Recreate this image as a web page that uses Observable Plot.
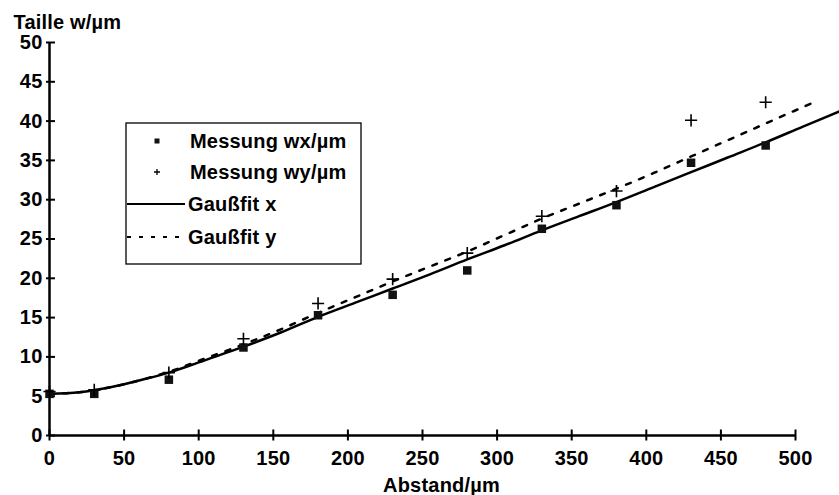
<!DOCTYPE html>
<html>
<head>
<meta charset="utf-8">
<script src="https://cdn.jsdelivr.net/npm/d3@7"></script>
<script src="https://cdn.jsdelivr.net/npm/@observablehq/plot@0.6"></script>
<style>
  html, body { margin: 0; padding: 0; background: #fff; }
  #chart { position: relative; width: 839px; height: 495px; }
</style>
</head>
<body>
<div id="chart"></div>
<script>
// Measurements
const distance = [0, 30, 80, 130, 180, 230, 280, 330, 380, 430, 480];
const wx = [5.3, 5.3, 7.1, 11.2, 15.3, 17.9, 21.0, 26.3, 29.3, 34.7, 36.9];
const wy = [5.6, 5.8, 8.0, 12.3, 16.8, 19.9, 23.2, 27.9, 31.1, 40.1, 42.4];

// Fit curves
const fitXz = [0, 20, 40, 60, 80, 100, 130, 155, 180, 205, 230, 255, 280, 305, 330, 355, 380, 405, 430, 455, 480, 505, 529];
const fitXw = [5.3, 5.5, 6.1, 7.0, 8.0, 9.3, 11.3, 13.1, 15.1, 16.9, 18.7, 20.5, 22.4, 24.2, 26.1, 27.9, 29.7, 31.6, 33.5, 35.4, 37.3, 39.3, 41.2];
const fitYz = [0, 20, 40, 60, 80, 100, 130, 155, 180, 205, 230, 255, 280, 305, 330, 355, 380, 405, 430, 455, 480, 510];
const fitYw = [5.3, 5.5, 6.1, 7.0, 8.1, 9.5, 11.6, 13.5, 15.6, 17.6, 19.6, 21.5, 23.4, 25.5, 27.6, 29.5, 31.4, 33.4, 35.5, 37.6, 39.7, 42.2];

// Axis ticks and labels
const xTicks = [0, 50, 100, 150, 200, 250, 300, 350, 400, 450, 500];
const yTicks = [0, 5, 10, 15, 20, 25, 30, 35, 40, 45, 50];
const xLabel = "Abstand/µm";
const yLabel = "Taille w/µm";
const legendLabels = ["Messung wx/µm", "Messung wy/µm", "Gaußfit x", "Gaußfit y"];

const meas = distance.map((d, i) => ({d, wx: wx[i], wy: wy[i]}));
const fitX = fitXz.map((z, i) => ({z, w: fitXw[i]}));
const fitY = fitYz.map((z, i) => ({z, w: fitYw[i]}));

const FONT = "'Liberation Sans', Arial, Helvetica, sans-serif";
const FS = 20;

const plot = Plot.plot({
  width: 839,
  height: 495,
  marginLeft: 49,
  marginRight: 44,
  marginTop: 42,
  marginBottom: 60,
  style: {fontFamily: FONT, fontSize: FS + "px", fontWeight: "bold", color: "#000", background: "#fff", overflow: "visible", letterSpacing: "0.2px"},
  x: {domain: [0, 500]},
  y: {domain: [0, 50]},
  marks: [
    // axis lines
    Plot.ruleY([0], {x1: 0, x2: 500, stroke: "#000", strokeWidth: 2.5}),
    Plot.ruleX([0], {y1: 0, y2: 50, stroke: "#000", strokeWidth: 2.5}),
    // crossing ticks
    Plot.ruleX(xTicks, {x: d => d, y1: -0.7, y2: 0.7, stroke: "#000", strokeWidth: 2}),
    Plot.ruleY(yTicks, {y: d => d, x1: -2, x2: 4, stroke: "#000", strokeWidth: 2}),
    Plot.axisX(xTicks, {tickSize: 0, tickPadding: 15, label: null, fontSize: FS, fontWeight: "bold"}),
    Plot.axisY(yTicks, {tickSize: 0, tickPadding: 7, label: null, fontSize: FS, fontWeight: "bold"}),
    // axis titles
    Plot.text([yLabel], {frameAnchor: "top-left", dx: -36, dy: -14, lineAnchor: "bottom", textAnchor: "start", fontSize: FS, fontWeight: "bold"}),
    Plot.text([xLabel], {frameAnchor: "bottom", dx: 19, dy: 56, lineAnchor: "bottom", fontSize: FS, fontWeight: "bold"}),
    // fits
    Plot.line(fitX, {x: "z", y: "w", stroke: "#000", strokeWidth: 2.5, curve: "catmull-rom"}),
    Plot.line(fitY, {x: "z", y: "w", stroke: "#000", strokeWidth: 2.5, strokeDasharray: "5,9", curve: "catmull-rom"}),
    // measurements
    Plot.dot(meas, {x: "d", y: "wx", symbol: "square", r: 4.8, fill: "#111", stroke: "none"}),
    Plot.dot(meas, {x: "d", y: "wy", symbol: "plus", r: 4, stroke: "#000", strokeWidth: 1.6})
  ]
});

document.getElementById("chart").appendChild(plot);

// Legend drawn into the same SVG
const svg = d3.select(plot);
const lg = svg.append("g").attr("font-family", FONT).attr("font-size", FS).attr("font-weight", "bold").attr("text-anchor", "start");
lg.append("rect").attr("x", 126).attr("y", 123).attr("width", 235).attr("height", 141)
  .attr("fill", "#fff").attr("stroke", "#000").attr("stroke-width", 1.3);
const rowY = [141, 172, 204, 237];
// square
lg.append("rect").attr("x", 154.5).attr("y", rowY[0] - 2.5).attr("width", 5).attr("height", 5).attr("fill", "#111");
// plus
lg.append("path").attr("d", `M${154},${rowY[1]}h6M${157},${rowY[1] - 3}v6`).attr("stroke", "#000").attr("stroke-width", 1.3);
// solid line
lg.append("line").attr("x1", 127).attr("x2", 185).attr("y1", rowY[2]).attr("y2", rowY[2]).attr("stroke", "#000").attr("stroke-width", 2.2);
// dashed line
lg.append("line").attr("x1", 127).attr("x2", 185).attr("y1", rowY[3]).attr("y2", rowY[3]).attr("stroke", "#000").attr("stroke-width", 2.2).attr("stroke-dasharray", "4,8");
const textX = [190, 190, 188, 188];
legendLabels.forEach((t, i) => {
  lg.append("text").attr("x", textX[i]).attr("y", rowY[i]).attr("dy", "0.36em").attr("fill", "#000").attr("text-anchor", "start").text(t);
});
</script>
</body>
</html>
